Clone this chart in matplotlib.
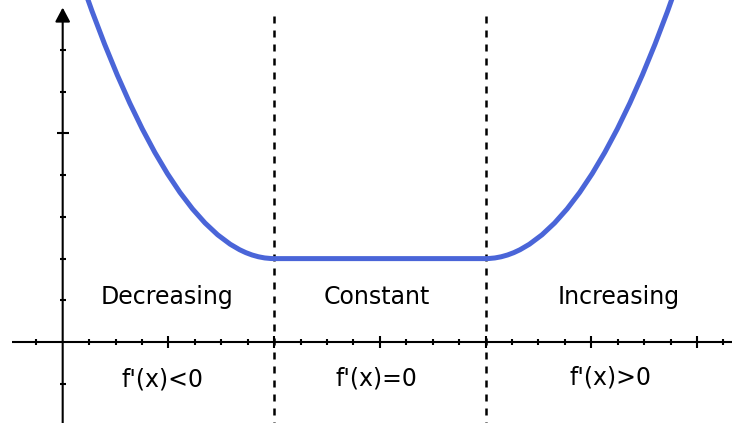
import matplotlib
matplotlib.use("Agg")
import matplotlib.pyplot as plt
from matplotlib.path import Path
from matplotlib.patches import PathPatch

# ---- data ----
# curve: quadratic Bezier pieces (parabolic arms) joined by a flat segment
curve_vertices = [(0.10, 9.22), (1.05, 2.0), (2.0, 2.0), (4.0, 2.0), (4.95, 2.0), (5.90, 9.22)]
boundaries = [2.0, 4.0]
top_labels = ["Decreasing", "Constant", "Increasing"]
top_label_x = [0.99, 2.97, 5.26]
top_label_y = [1.08, 1.08, 1.08]
bottom_labels = ["f'(x)<0", "f'(x)=0", "f'(x)>0"]
bottom_label_x = [0.94, 2.97, 5.18]
bottom_label_y = [-0.90, -0.88, -0.86]
x_major_ticks = [1, 2, 3, 4, 5, 6]
x_minor_ticks = [-0.25, 0.25, 0.5, 0.75, 1.25, 1.5, 1.75, 2.25, 2.5, 2.75,
                 3.25, 3.5, 3.75, 4.25, 4.5, 4.75, 5.25, 5.5, 5.75, 6.25]
y_major_ticks = [5]
y_minor_ticks = [-1, 1, 2, 3, 4, 6, 7]

XLIM = (-0.593, 6.379)
YLIM = (-1.942, 8.201)

fig = plt.figure(figsize=(7.37, 4.23), dpi=100)
ax = fig.add_axes([0, 0, 1, 1])
ax.set_xlim(*XLIM)
ax.set_ylim(*YLIM)
ax.axis("off")

# axes lines
ax.plot([-0.48, 6.33], [0, 0], color="black", lw=1.5, zorder=2, solid_capstyle="butt")
ax.annotate("", xy=(6.385, 0), xytext=(6.30, 0),
            arrowprops=dict(arrowstyle="-|>,head_length=0.8,head_width=0.45",
                            lw=1.5, color="black", shrinkA=0, shrinkB=0), zorder=2)
ax.annotate("", xy=(0, 8.02), xytext=(0, -2.1),
            arrowprops=dict(arrowstyle="-|>,head_length=0.85,head_width=0.45",
                            lw=1.5, color="black", shrinkA=0, shrinkB=0), zorder=2)

# ticks
ax.plot(x_major_ticks, [0] * len(x_major_ticks), ls="none", marker="|",
        ms=8.5, mew=1.5, color="black", zorder=2)
ax.plot(x_minor_ticks, [0] * len(x_minor_ticks), ls="none", marker="|",
        ms=3.8, mew=1.5, color="black", zorder=2)
ax.plot([0] * len(y_major_ticks), y_major_ticks, ls="none", marker="_",
        ms=8.0, mew=1.5, color="black", zorder=2)
ax.plot([0] * len(y_minor_ticks), y_minor_ticks, ls="none", marker="_",
        ms=3.8, mew=1.5, color="black", zorder=2)

# dashed boundaries
for b in boundaries:
    ax.plot([b, b], [7.82, -2.0], color="black", lw=1.8, dashes=(2.8, 2.8), zorder=3)

# curve
codes = [Path.MOVETO, Path.CURVE3, Path.CURVE3, Path.LINETO, Path.CURVE3, Path.CURVE3]
path = Path(curve_vertices, codes)
ax.add_patch(PathPatch(path, facecolor="none", edgecolor="#4a65d8", lw=3.6,
                       capstyle="butt", joinstyle="round", zorder=4))

# labels
for t, x, y in zip(top_labels, top_label_x, top_label_y):
    ax.text(x, y, t, ha="center", va="center", fontsize=17, family="DejaVu Sans")
for t, x, y in zip(bottom_labels, bottom_label_x, bottom_label_y):
    ax.text(x, y, t, ha="center", va="center", fontsize=17, family="DejaVu Sans")

fig.savefig("out.png", dpi=100)
